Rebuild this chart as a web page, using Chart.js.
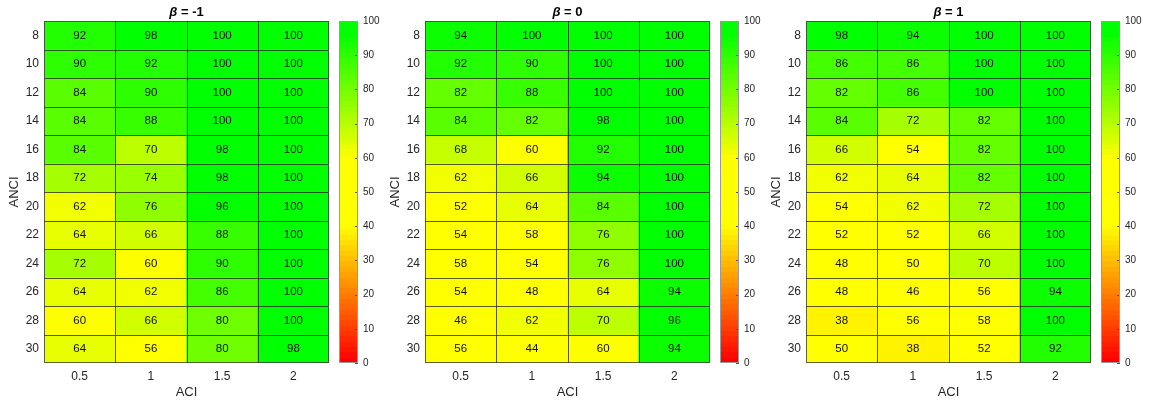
<!DOCTYPE html>
<html>
<head>
<meta charset="utf-8">
<script src="https://cdn.jsdelivr.net/npm/chart.js@4.4.1/dist/chart.umd.min.js"></script>
<style>
  body { margin: 0; background: #fff; }
  #wrap { position: relative; width: 1151px; height: 405px; }
  #wrap canvas { position: absolute; top: 0; }
</style>
</head>
<body>
<div id="wrap"></div>
<script>
// ACI along x, ANCI down the rows, success rate (%) in each cell
const aciLabels = ['0.5', '1', '1.5', '2'];
const anciLabels = ['8', '10', '12', '14', '16', '18', '20', '22', '24', '26', '28', '30'];
const betaValues = ['-1', '0', '1'];

const rateBetaNeg1 = [
    [92, 98, 100, 100],
    [90, 92, 100, 100],
    [84, 90, 100, 100],
    [84, 88, 100, 100],
    [84, 70, 98, 100],
    [72, 74, 98, 100],
    [62, 76, 96, 100],
    [64, 66, 88, 100],
    [72, 60, 90, 100],
    [64, 62, 86, 100],
    [60, 66, 80, 100],
    [64, 56, 80, 98]
];
const rateBeta0 = [
    [94, 100, 100, 100],
    [92, 90, 100, 100],
    [82, 88, 100, 100],
    [84, 82, 98, 100],
    [68, 60, 92, 100],
    [62, 66, 94, 100],
    [52, 64, 84, 100],
    [54, 58, 76, 100],
    [58, 54, 76, 100],
    [54, 48, 64, 94],
    [46, 62, 70, 96],
    [56, 44, 60, 94]
];
const rateBeta1 = [
    [98, 94, 100, 100],
    [86, 86, 100, 100],
    [82, 86, 100, 100],
    [84, 72, 82, 100],
    [66, 54, 82, 100],
    [62, 64, 82, 100],
    [54, 62, 72, 100],
    [52, 52, 66, 100],
    [48, 50, 70, 100],
    [48, 46, 56, 94],
    [38, 56, 58, 100],
    [50, 38, 52, 92]
];
const colorRange = [0, 100];

const FONT = '"Liberation Sans", Arial, Helvetica, sans-serif';
const TEXT = '#262626';
const LEVELS = 64;

// red -> yellow (flat through the middle) -> green
function cmap(v) {
    let r, g;
    if (v <= 40) { r = 255; g = 255 * v / 40; }
    else if (v < 60) { r = 255; g = 255; }
    else { r = Math.max(0, 255 * (97 - v) / 37); g = 255; }
    return `rgb(${Math.round(r)},${Math.round(g)},0)`;
}
function binColor(v) {
    const k = Math.min(LEVELS - 1, Math.floor((v - colorRange[0]) / (colorRange[1] - colorRange[0]) * LEVELS));
    return cmap(colorRange[0] + k / (LEVELS - 1) * (colorRange[1] - colorRange[0]));
}

const wrap = document.getElementById('wrap');
function addCanvas(left, width) {
    const c = document.createElement('canvas');
    c.width = width; c.height = 405;
    c.style.left = left + 'px';
    c.style.width = width + 'px'; c.style.height = '405px';
    wrap.appendChild(c);
    return c;
}

function makeHeatmap(left, beta, grid) {
    const datasets = grid.map((row, i) => ({
        label: anciLabels[i],
        data: row.map((v, j) => ({ x: aciLabels[j], y: [i, i + 1], v: v })),
        backgroundColor: ctx => binColor(ctx.raw.v),
        borderWidth: 0,
        categoryPercentage: 1,
        barPercentage: 1,
        grouped: false
    }));

    const decor = {
        id: 'decor',
        afterDatasetsDraw(chart) {
            const { ctx, chartArea: a } = chart;
            ctx.save();
            ctx.strokeStyle = 'rgba(35,35,35,0.75)';
            ctx.lineWidth = 1;
            ctx.beginPath();
            chart.data.datasets.forEach((ds, i) => {
                chart.getDatasetMeta(i).data.forEach((bar, j) => {
                    const p = bar.getProps(['x', 'y', 'base', 'width'], true);
                    const bottom = Math.round(Math.max(p.y, p.base)) + 0.5;
                    const right = Math.round(p.x + p.width / 2) + 0.5;
                    if (right < a.right - 1) {
                        ctx.moveTo(right, Math.min(p.y, p.base));
                        ctx.lineTo(right, Math.max(p.y, p.base));
                    }
                    if (bottom < a.bottom - 1) {
                        ctx.moveTo(p.x - p.width / 2, bottom);
                        ctx.lineTo(p.x + p.width / 2, bottom);
                    }
                });
            });
            ctx.stroke();
            ctx.strokeStyle = 'rgba(60,60,60,0.8)';
            ctx.strokeRect(Math.round(a.left) + 0.5, Math.round(a.top) + 0.5,
                Math.round(a.right - a.left) - 1, Math.round(a.bottom - a.top) - 1);

            // cell values
            ctx.fillStyle = '#111';
            ctx.font = `11.5px ${FONT}`;
            ctx.textAlign = 'center';
            ctx.textBaseline = 'middle';
            chart.data.datasets.forEach((ds, i) => {
                chart.getDatasetMeta(i).data.forEach((bar, j) => {
                    const p = bar.getProps(['x', 'y', 'base'], true);
                    ctx.fillText(String(ds.data[j].v), p.x, (p.y + p.base) / 2 + 0.5);
                });
            });

            // panel title: italic beta, bold rest
            const cx = (a.left + a.right) / 2;
            const rest = ' = ' + beta;
            ctx.fillStyle = '#000';
            ctx.font = `italic bold 13px ${FONT}`;
            const wB = ctx.measureText('β').width;
            ctx.font = `bold 13px ${FONT}`;
            const wR = ctx.measureText(rest).width;
            ctx.textAlign = 'left';
            const x0 = cx - (wB + wR) / 2;
            ctx.font = `italic bold 13px ${FONT}`;
            ctx.fillText('β', x0, 12);
            ctx.font = `bold 13px ${FONT}`;
            ctx.fillText(rest, x0 + wB, 12);

            // axis titles
            ctx.fillStyle = TEXT;
            ctx.font = `13px ${FONT}`;
            ctx.textAlign = 'center';
            ctx.fillText('ACI', cx, 392);
            ctx.translate(14.5, (a.top + a.bottom) / 2);
            ctx.rotate(-Math.PI / 2);
            ctx.fillText('ANCI', 0, 0);
            ctx.restore();
        }
    };

    new Chart(addCanvas(left, 335), {
        type: 'bar',
        data: { labels: aciLabels, datasets },
        options: {
            responsive: false,
            animation: false,
            layout: { padding: { left: 0, right: 6, top: 21, bottom: 0 } },
            plugins: { legend: { display: false }, tooltip: { enabled: false } },
            scales: {
                x: {
                    type: 'category',
                    grid: { display: false, drawTicks: false },
                    border: { display: false },
                    ticks: { color: TEXT, font: { family: FONT, size: 12 }, padding: 6, maxRotation: 0 },
                    afterFit: s => { s.height = 42; }
                },
                y: {
                    type: 'linear',
                    reverse: true,
                    min: 0,
                    max: anciLabels.length,
                    grid: { display: false, drawTicks: false },
                    border: { display: false },
                    afterBuildTicks: s => { s.ticks = anciLabels.map((_, i) => ({ value: i + 0.5 })); },
                    ticks: {
                        color: TEXT,
                        font: { family: FONT, size: 12 },
                        padding: 5,
                        callback: v => anciLabels[Math.floor(v)]
                    },
                    afterFit: s => { s.width = 44; }
                }
            }
        },
        plugins: [decor]
    });
}

function makeColorbar(left) {
    let grad = null;
    const barColor = ctx => {
        const a = ctx.chart.chartArea;
        if (!a) return cmap(50);
        if (!grad) {
            grad = ctx.chart.ctx.createLinearGradient(0, a.bottom, 0, a.top);
            for (let k = 0; k < LEVELS; k++) {
                const c = cmap(colorRange[0] + k / (LEVELS - 1) * (colorRange[1] - colorRange[0]));
                grad.addColorStop(k / LEVELS, c);
                grad.addColorStop((k + 1) / LEVELS, c);
            }
        }
        return grad;
    };
    const frame = {
        id: 'cbframe',
        afterDatasetsDraw(chart) {
            const { ctx, chartArea: a, scales } = chart;
            ctx.save();
            ctx.strokeStyle = '#555';
            ctx.lineWidth = 1;
            ctx.beginPath();
            scales.y.ticks.forEach(t => {
                const y = Math.round(scales.y.getPixelForValue(t.value)) + 0.5;
                ctx.moveTo(a.right - 3, y);
                ctx.lineTo(a.right, y);
            });
            ctx.stroke();
            ctx.strokeStyle = '#9a9a9a';
            ctx.strokeRect(Math.round(a.left) + 0.5, Math.round(a.top) + 0.5,
                Math.round(a.right - a.left) - 1, Math.round(a.bottom - a.top) - 1);
            ctx.restore();
        }
    };
    new Chart(addCanvas(left, 50), {
        type: 'bar',
        data: {
            labels: [''],
            datasets: [{ data: [colorRange], backgroundColor: barColor, borderWidth: 0, categoryPercentage: 1, barPercentage: 1 }]
        },
        options: {
            responsive: false,
            animation: false,
            layout: { padding: { left: 0, right: 0, top: 21, bottom: 42 } },
            plugins: { legend: { display: false }, tooltip: { enabled: false } },
            scales: {
                x: { display: false },
                y: {
                    position: 'right',
                    min: colorRange[0],
                    max: colorRange[1],
                    grid: { display: false, drawTicks: false },
                    border: { display: false },
                    ticks: { stepSize: 10, color: TEXT, font: { family: FONT, size: 10 }, padding: 5 },
                    afterFit: s => { s.width = 31; }
                }
            }
        },
        plugins: [frame]
    });
}

[rateBetaNeg1, rateBeta0, rateBeta1].forEach((grid, p) => {
    const left = p * 381;
    makeHeatmap(left, betaValues[p], grid);
    makeColorbar(left + 339);
});
</script>
</body>
</html>
